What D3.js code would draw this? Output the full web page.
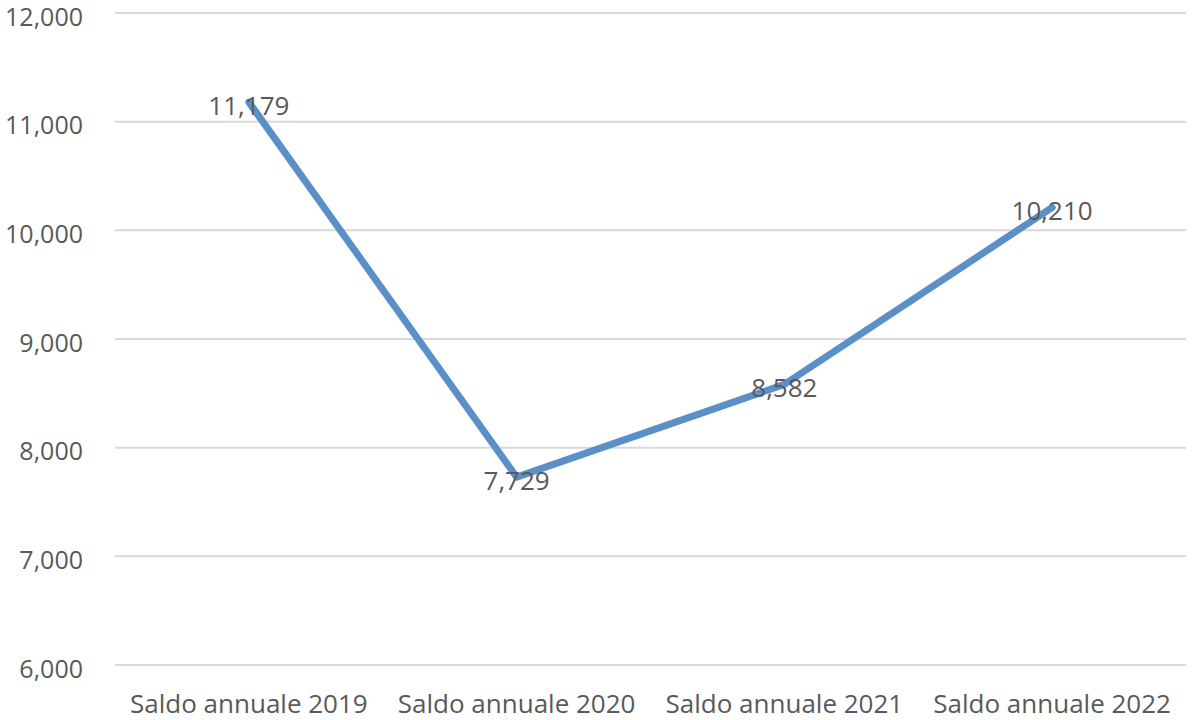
<!DOCTYPE html>
<html>
<head>
<meta charset="utf-8">
<script src="https://cdn.jsdelivr.net/npm/d3@7"></script>
<style>
  html, body { margin: 0; padding: 0; background: #fff; }
  svg { display: block; }
  text { font-family: "Open Sans", "Liberation Sans", sans-serif; fill: #595959; }
</style>
</head>
<body>
<svg id="chart" width="1192" height="720"></svg>
<script>
const categories = ["Saldo annuale 2019", "Saldo annuale 2020", "Saldo annuale 2021", "Saldo annuale 2022"];
const values = [11179, 7729, 8582, 10210];
const yTicks = [6000, 7000, 8000, 9000, 10000, 11000, 12000];

const svg = d3.select("#chart");
const plotLeft = 115, plotRight = 1186, plotTop = 13, plotBottom = 665;

const x = d3.scaleBand().domain(categories).range([plotLeft, plotRight]).padding(0);
const y = d3.scaleLinear().domain([6000, 12000]).range([plotBottom, plotTop]);
const fmt = d3.format(",");

// gridlines
svg.append("g")
  .selectAll("line")
  .data(yTicks)
  .join("line")
  .attr("x1", plotLeft).attr("x2", plotRight)
  .attr("y1", d => y(d)).attr("y2", d => y(d))
  .attr("stroke", "#d9d9d9")
  .attr("stroke-width", 2);

// y axis labels
const yAxis = d3.axisLeft(y).tickValues(yTicks).tickFormat(fmt).tickSize(0).tickPadding(0);
const gy = svg.append("g").attr("transform", "translate(83,4)").call(yAxis);
gy.select(".domain").remove();
gy.selectAll("text").attr("font-size", 25).attr("fill", "#595959")
  .style("font-family", '"Open Sans", "Liberation Sans", sans-serif');

// x axis labels
const xAxis = d3.axisBottom(x).tickSize(0).tickPadding(0);
const gx = svg.append("g").attr("transform", "translate(0,695)").call(xAxis);
gx.select(".domain").remove();
gx.selectAll("text").attr("font-size", 26).attr("fill", "#595959")
  .style("font-family", '"Open Sans", "Liberation Sans", sans-serif');

// line
const line = d3.line()
  .x((d, i) => x(categories[i]) + x.bandwidth() / 2)
  .y(d => y(d));
svg.append("path")
  .datum(values)
  .attr("d", line)
  .attr("fill", "none")
  .attr("stroke", "#5b8fc8")
  .attr("stroke-width", 7)
  .attr("stroke-linejoin", "round")
  .attr("stroke-linecap", "round");

// data labels
svg.append("g")
  .selectAll("text")
  .data(values)
  .join("text")
  .attr("x", (d, i) => x(categories[i]) + x.bandwidth() / 2)
  .attr("y", d => y(d) + 12.5)
  .attr("text-anchor", "middle")
  .attr("font-size", 26)
  .attr("fill", "#404040")
  .text(d => fmt(d));
</script>
</body>
</html>
